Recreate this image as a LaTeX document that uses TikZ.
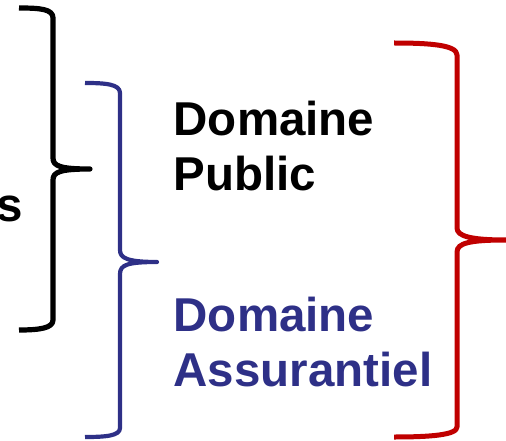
\documentclass[tikz,border=0pt]{standalone}
\usepackage{fontspec}
\setmainfont{Liberation Sans}
\definecolor{bracered}{RGB}{192,0,0}
\definecolor{braceblue}{RGB}{46,48,135}
\begin{document}
\begin{tikzpicture}[x=1pt,y=-1pt,
  bracestroke/.style={line width=#1, line join=round, line cap=butt},
  label/.style={font=\fontsize{47.5}{55}\selectfont\bfseries, inner sep=0pt, align=left}]
\useasboundingbox (0,0) rectangle (506,441);
% black brace
\coordinate (kt) at (90,169);
\draw[bracestroke=5.2pt]
  (19,8) .. controls (40,8) and (53,9) .. (53,18)
  -- (53,158) .. controls (53,166) and (60,169) .. (kt)
  .. controls (60,169) and (53,172) .. (53,180)
  -- (53,320) .. controls (53,328) and (40,330) .. (19,330);
% blue brace
\coordinate (bt) at (157,262);
\draw[braceblue, bracestroke=4.2pt]
  (85,83) .. controls (105,83) and (120,84) .. (120,93)
  -- (120,250) .. controls (120,258) and (127,262) .. (bt)
  .. controls (127,262) and (120,265) .. (120,274)
  -- (120,428) .. controls (120,436) and (105,437) .. (85,437);
% red brace
\coordinate (rt) at (506,240);
\draw[bracered, bracestroke=5pt]
  (394,43) .. controls (430,43) and (457,45) .. (457,55)
  -- (457,228) .. controls (457,236) and (470,240) .. (rt)
  .. controls (470,240) and (457,243) .. (457,252)
  -- (457,427) .. controls (457,435) and (430,437) .. (394,437);
% texts
\node[label, anchor=north west] (pub) at (173.5,101) {Domaine\\Public};
\node[label, anchor=north west, text=braceblue] (ass) at (173.5,297) {Domaine\\Assurantiel};
\node[label, anchor=base east] (s) at (23,221) {s};
\end{tikzpicture}
\end{document}
